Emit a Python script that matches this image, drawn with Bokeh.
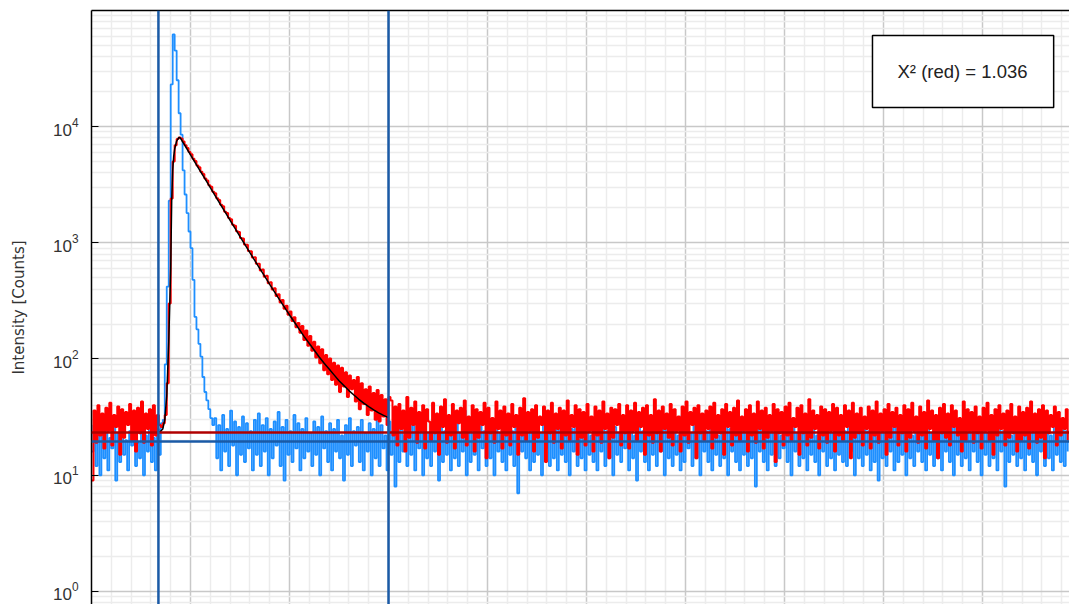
import numpy as np
from bokeh.plotting import figure
from bokeh.models import Span, FixedTicker, LinearAxis, Label, BoxAnnotation
from bokeh.embed import file_html
from bokeh.resources import INLINE

# ---------------- data ----------------
channel_width_ns = 0.1

decay_counts = (
    # baseline before the pulse
    [9, 36, 19, 40, 22, 34, 17, 38, 24, 42, 18, 33, 26, 39, 15, 37, 21, 35, 27, 41,
     20, 36, 16, 38, 23, 43, 19, 34, 25, 37, 18, 40, 22, 33, 27]
    # rise
    + [26, 28, 33, 62, 300, 2400, 5000, 6900, 7800, 8050]
    # decay
    + [7885, 7431, 6890, 6540, 6035, 5760, 5290, 5050, 4620, 4455,
       4080, 3905, 3570, 3440, 3120, 3025, 2748, 2660, 2410, 2338,
       2120, 2061, 1852, 1806, 1630, 1590, 1428, 1401, 1254, 1236,
       1101, 1090, 968, 962, 851, 846, 748, 752, 659, 661,
       577, 588, 510, 521, 448, 458, 396, 407, 349, 361,
       306, 321, 271, 287, 240, 256, 212, 229, 188, 204,
       168, 192, 146, 176, 130, 158, 118, 141, 103, 128,
       92, 121, 80, 108, 74, 101, 66, 93, 60, 88,
       52, 84, 58, 77, 47, 72, 55, 66, 43, 70,
       37, 62, 41, 55, 33, 58, 36, 51, 30, 54,
       29, 49, 32, 45, 27, 47]
    # tail / background
    + [44, 22, 39, 18, 41, 25, 36, 16, 47, 21, 38, 27, 43, 19, 35, 24, 40, 17, 37, 29,
       20, 42, 23, 34, 15, 39, 26, 45, 19, 33, 22, 41, 17, 36, 28, 38, 21, 44, 18, 32,
       24, 40, 16, 37, 21, 35, 27, 42, 14, 38, 23, 31, 19, 43, 25, 36, 17, 39, 22, 34,
       18, 41, 26, 33, 15, 38, 22, 46, 20, 35, 24, 37, 16, 40, 21, 32, 27, 39, 13, 36,
       23, 42, 19, 34, 25, 38, 17, 36, 22, 44, 20, 33, 26, 40, 15, 37, 21, 35, 18, 41,
       24, 32, 16, 39, 22, 36, 19, 43, 25, 34, 14, 38, 21, 37, 27, 41, 18, 33, 23, 40,
       17, 36, 24, 42, 20, 35, 26, 38, 15, 40, 22, 33, 19, 45, 23, 36, 16, 39, 25, 34,
       21, 41, 18, 37, 24, 32, 16, 39, 22, 43, 19, 35, 27, 38, 14, 40, 23, 34, 20, 36,
       25, 39, 17, 42, 21, 33, 23, 37, 15, 41, 26, 35, 18, 38, 22, 44, 20, 32, 24, 37,
       16, 40, 22, 34, 19, 43, 25, 36, 17, 38, 21, 33, 24, 41, 13, 37, 23, 35, 18, 39,
       22, 42, 20, 31, 26, 38, 15, 40, 23, 34, 18, 45, 21, 36, 25, 33, 17, 39, 22, 37,
       19, 35, 24, 41, 16, 38, 22, 33, 20, 40, 26, 36, 14, 42, 21, 34, 23, 38, 18, 32,
       25, 39, 17, 36, 22, 43, 19, 34, 24, 37, 15, 41, 21, 35, 26, 38, 18, 33, 23, 40,
       16, 37, 21, 42, 24, 32, 19, 39, 22, 35, 17, 44, 25, 36, 20, 33, 14, 38, 23, 41,
       21, 34, 18, 40, 26, 36, 22, 31, 16, 43, 20, 37, 24, 35, 19, 39, 23, 32, 17, 38,
       24, 42, 20, 33, 15, 37, 22, 40, 25, 34, 18, 36, 21, 41, 23, 32, 16, 39, 20, 35,
       22, 38, 17, 43, 24, 34, 19, 37, 21, 40, 14, 36, 23, 33, 26, 39, 18, 35, 22, 31,
       25, 37, 20]
)

irf_counts = (
    [16, 27, 12, 22, 10, 25, 14, 29, 11, 21, 17, 26, 9, 23, 13, 28, 15, 20, 11, 24,
     18, 30, 12, 19, 14, 26, 10, 22, 16, 27, 13, 21, 11, 25, 15, 28]
    + [30, 90, 420, 2300, 23000, 62000, 45000, 25000, 13000, 8500, 4200, 2600, 1800,
       1250, 900, 480, 230, 180, 135, 105, 70, 52, 44, 37, 31, 27]
    + [31, 14, 27, 11, 33, 16, 25, 12, 36, 18, 29, 10, 26, 15, 32, 13, 28, 17, 24, 11, 30, 15, 34, 12,
       27, 16, 31, 10, 25, 14, 29, 18, 35, 12, 26, 9, 30, 15, 24, 13, 33, 17, 28, 11, 25, 14, 31, 16,
       23, 12, 29, 15, 26, 10, 32, 17, 24, 13, 28, 11, 25, 16, 30, 14, 22, 9, 27, 15, 31, 12, 24, 18,
       26, 13, 30, 11, 23, 16, 28, 10, 25, 14, 33, 12, 27, 17, 22, 11, 29, 15, 24, 8, 26, 13, 31, 16,
       22, 12, 27, 15, 29, 11, 24, 17, 26, 10, 30, 14, 23, 12, 28, 16, 25, 9, 31, 13, 24, 15, 27, 11,
       25, 14, 29, 12, 23, 16, 36, 10, 26, 13, 28, 15, 22, 11, 30, 17, 24, 12, 27, 14, 25, 10, 29, 16,
       23, 13, 27, 11, 31, 15, 24, 12, 28, 7, 25, 16, 22, 14, 29, 11, 26, 13, 30, 15, 23, 10, 27, 17,
       24, 12, 28, 14, 26, 11, 32, 15, 23, 13, 27, 10, 25, 16, 29, 12, 24, 14, 28, 11, 26, 15, 22, 13,
       30, 11, 25, 16, 27, 12, 24, 14, 29, 10, 26, 15, 23, 13, 31, 17, 25, 11, 28, 14, 22, 9, 27, 16,
       24, 13, 29, 11, 26, 15, 23, 12, 28, 16, 25, 10, 30, 14, 24, 12, 27, 15, 22, 11, 33, 13, 26, 17,
       23, 12, 28, 14, 25, 10, 29, 16, 24, 13, 27, 11, 31, 15, 22, 12, 26, 14, 28, 10, 25, 16, 23, 13,
       29, 11, 26, 15, 24, 12, 30, 14, 23, 8, 27, 16, 25, 13, 28, 11, 24, 15, 26, 12, 31, 14, 22, 17,
       27, 13, 25, 10, 29, 16, 23, 12, 26, 14, 32, 11, 24, 15, 28, 13, 22, 10, 27, 16, 25, 12, 29, 14,
       23, 11, 28, 15, 26, 13, 24, 12, 30, 16, 25, 10, 27, 14, 23, 12, 29, 15, 24, 11, 26, 13, 28, 9,
       25, 14, 29, 12, 23, 16, 27, 11, 26, 13, 31, 15, 24, 10, 28, 14, 22, 12, 26, 16, 29, 13, 25, 11,
       27, 15, 23, 12, 30, 14, 25, 11, 28, 16, 24, 13, 26, 10, 29, 15, 23, 12, 27, 14, 25, 11, 32, 16,
       24, 13, 28, 10, 26, 15, 23, 12, 29, 14, 25, 11, 27, 16, 24, 8, 28, 13, 22, 15, 26, 12, 30, 14,
       23, 11, 27, 15, 25, 13, 29, 10, 24, 16, 26, 12, 28, 14, 22, 11, 27, 15, 25, 13, 30, 12, 24, 16]
)

fit_time_ns = [3.4, 3.5, 3.6, 3.7, 3.8, 3.9, 4.0, 4.05, 4.1, 4.15, 4.2, 4.3, 4.4, 4.45,
               4.5, 4.75, 5.0, 5.25, 5.5, 5.75, 6.0, 6.25, 6.5, 6.75, 7.0, 7.25, 7.5, 7.75,
               8.0, 8.25, 8.5, 8.75, 9.0, 9.25, 9.5, 9.75, 10.0, 10.25, 10.5, 10.75, 11.0,
               11.25, 11.5, 11.75, 12.0, 12.25, 12.5, 12.75, 13.0, 13.25, 13.5, 13.75, 14.0,
               14.25, 14.5, 14.75, 15.0]
fit_counts = [23.5, 24, 25, 30, 48, 140, 600, 2300, 4200, 5500, 6400, 7500, 8000, 8050,
              7900, 6712, 5704, 4847, 4120, 3502, 2977, 2532, 2154, 1832, 1560, 1328, 1131,
              964, 822, 702, 599, 513, 439, 376, 323, 278, 239, 207, 179, 155, 136, 119, 104,
              92, 82, 73, 65, 59, 53.5, 49, 45, 41.7, 38.9, 36.5, 34.4, 32.7, 31.3]

decay_background = 23.3
irf_background = 19.5
fit_range_ns = [3.38, 15.0]
chi2_text = "X\u00b2 (red) = 1.036"

y_major_ticks = [1, 10, 100, 1000, 10000]
x_major_ticks = [0, 5, 10, 15, 20, 25, 30, 35, 40, 45]

time_ns = np.arange(len(decay_counts)) * channel_width_ns

# ---------------- figure ----------------
p = figure(width=1069, height=604, y_axis_type="log",
           x_range=(0, 49.39), y_range=(10 ** -0.112, 10 ** 4.998),
           output_backend="svg", toolbar_location=None,
           min_border_left=91, min_border_right=0, min_border_top=10, min_border_bottom=0)
p.background_fill_color = "white"
p.border_fill_color = "white"
p.outline_line_color = None
p.xaxis.visible = False

x_minor = [v for v in range(0, 50) if v % 5 != 0]
y_minor = [m * 10 ** e for e in range(-1, 5) for m in range(2, 10)]
p.xgrid.ticker = FixedTicker(ticks=x_major_ticks, minor_ticks=x_minor)
p.ygrid.ticker = FixedTicker(ticks=y_major_ticks, minor_ticks=y_minor)
for g in (p.xgrid, p.ygrid):
    g.grid_line_color = "#c8c8c8"
    g.grid_line_width = 1.5
    g.minor_grid_line_color = "#ececec"
    g.minor_grid_line_width = 1.5

ya = p.yaxis[0]
ya.ticker = FixedTicker(ticks=y_major_ticks, minor_ticks=y_minor)
ya.axis_line_color = "black"
ya.axis_line_width = 1.5
ya.major_tick_in = 7
ya.major_tick_out = 0
ya.major_tick_line_color = "black"
ya.minor_tick_line_color = None
ya.major_label_text_font = "Liberation Sans"
ya.major_label_text_font_size = "17px"
ya.major_label_text_color = "#333333"
ya.major_label_standoff = 9
ya.axis_label = "Intensity [Counts]"
ya.axis_label_text_font = "DejaVu Sans"
ya.axis_label_text_font_size = "15px"
ya.axis_label_text_font_style = "normal"
ya.axis_label_text_color = "#333333"
ya.axis_label_standoff = 22

top_axis = LinearAxis(ticker=FixedTicker(ticks=[]), axis_line_color="black", axis_line_width=1.5,
                      major_tick_in=0, major_tick_out=0, minor_tick_in=0, minor_tick_out=0,
                      major_label_standoff=0, axis_label_standoff=0)
p.add_layout(top_axis, "above")

# ---------------- data glyphs ----------------
p.step(time_ns, irf_counts, mode="after", line_color="#1e8fff", line_width=1.8)
p.step(time_ns, decay_counts, mode="after", line_color="#ff0000", line_width=2)
p.line(fit_time_ns, fit_counts, line_color="black", line_width=1.5)

p.add_layout(Span(location=decay_background, dimension="width", line_color="#b00000", line_width=2.5))
p.add_layout(Span(location=irf_background, dimension="width", line_color="#1a5aa6", line_width=2.5))
for loc in fit_range_ns:
    p.add_layout(Span(location=loc, dimension="height", line_color="#1a5aa6", line_width=2.5))

# ---------------- chi-square box ----------------
p.add_layout(BoxAnnotation(left=39.44, right=48.59, bottom=14560, top=60650,
                           fill_color="white", fill_alpha=1.0,
                           line_color="black", line_width=1.5, line_alpha=1.0))
p.add_layout(Label(x=43.99, y=29720, text=chi2_text, text_align="center",
                   text_baseline="middle", text_font="Liberation Sans",
                   text_font_size="18.5px", text_color="#222222"))

open("out.html", "w").write(file_html(p, INLINE))
